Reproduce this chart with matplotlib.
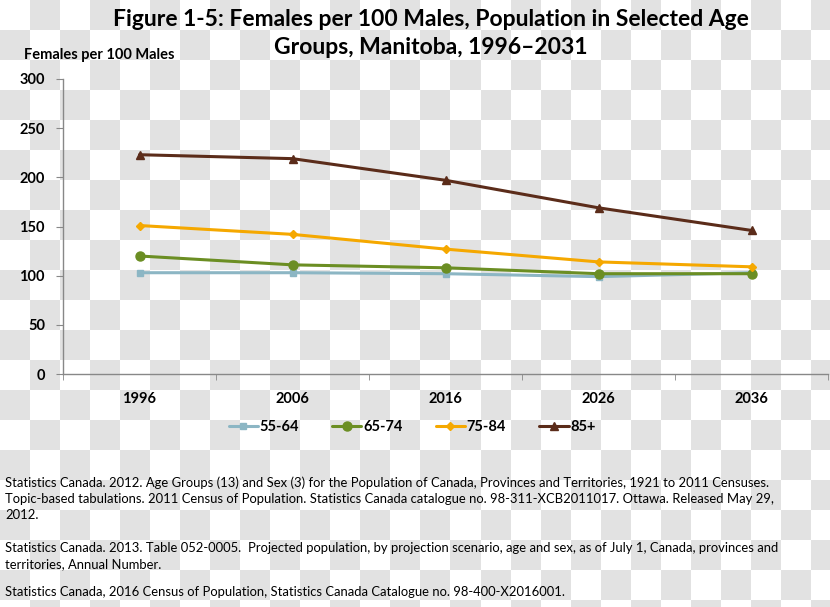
import numpy as np
import matplotlib
matplotlib.use("Agg")
import matplotlib.pyplot as plt

# data
years = ["1996", "2006", "2016", "2026", "2036"]
age_55_64 = [103, 103, 102, 99, 103]
age_65_74 = [120, 111, 108, 102, 102]
age_75_84 = [151, 142, 127, 114, 109]
age_85_plus = [223, 219, 197, 169, 146]

series = [
    ("55-64", age_55_64, "#8cb6c4", "s", 5.0),
    ("65-74", age_65_74, "#6b8e23", "o", 6.5),
    ("75-84", age_75_84, "#f5a800", "D", 4.5),
    ("85+", age_85_plus, "#5b2c1a", "^", 5.5),
]

title_lines = ["Figure 1-5: Females per 100 Males, Population in Selected Age",
               "Groups, Manitoba, 1996\u20132031"]

sources = [
    "Statistics Canada. 2012. Age Groups (13) and Sex (3) for the Population of Canada, Provinces and Territories, 1921 to 2011 Censuses.\n"
    "Topic-based tabulations. 2011 Census of Population. Statistics Canada catalogue no. 98-311-XCB2011017. Ottawa. Released May 29,\n"
    "2012.",
    "Statistics Canada. 2013. Table 052-0005.  Projected population, by projection scenario, age and sex, as of July 1, Canada, provinces and\n"
    "territories, Annual Number.",
    "Statistics Canada, 2016 Census of Population, Statistics Canada Catalogue no. 98-400-X2016001.",
]

W, H = 830, 607
font = ["Lato", "DejaVu Sans"]

fig = plt.figure(figsize=(W / 100, H / 100), dpi=100)

# checkerboard background (30 px cells)
bg = fig.add_axes([0, 0, 1, 1], zorder=-10)
rows, cols = 21, 28
checker = (np.add.outer(np.arange(rows), np.arange(cols)) % 2).astype(float)
bg.imshow(checker, cmap=matplotlib.colors.ListedColormap(["#ffffff", "#e2e2e2"]),
          extent=(0, cols * 30, rows * 30, 0), interpolation="nearest", aspect="auto")
bg.set_xlim(0, W)
bg.set_ylim(H, 0)
bg.axis("off")

# plot area
ax = fig.add_axes([63 / W, (H - 374) / H, (828 - 63) / W, 295 / H])
ax.patch.set_alpha(0)
x = np.arange(len(years))
for label, vals, color, marker, ms in series:
    ax.plot(x, vals, color=color, lw=2.2, marker=marker, ms=ms, label=label,
            solid_capstyle="round")

ax.set_xlim(-0.5, len(years) - 0.5)
ax.set_ylim(0, 300)
ax.set_yticks(range(0, 301, 50))
ax.set_xticks(x)
ax.set_xticklabels(years)
ax.set_xticks(np.arange(-0.5, len(years)), minor=True)
ax.tick_params(axis="x", which="major", length=0, pad=13)
ax.tick_params(axis="x", which="minor", length=4, direction="out", color="#888888")
ax.tick_params(axis="y", length=5, color="#888888", pad=8)
for lab in ax.get_xticklabels() + ax.get_yticklabels():
    lab.set_fontfamily(font)
    lab.set_fontweight("bold")
    lab.set_fontsize(10.5)
for side in ["top", "right"]:
    ax.spines[side].set_visible(False)
for side in ["left", "bottom"]:
    ax.spines[side].set_color("#888888")
    ax.spines[side].set_linewidth(1.0)

fig.text(24 / W, 1 - 55 / H, "Females per 100 Males", family=font, weight="bold",
         fontsize=10.5, ha="left", va="center")

# title, two lines
for y, line in zip([20, 48], title_lines):
    fig.text(431 / W, 1 - y / H, line, family=font, weight="bold",
             fontsize=16.5, ha="center", va="center")

leg = fig.legend(loc="center", bbox_to_anchor=(412 / W, 1 - 427 / H), ncol=4,
                 frameon=False, handlelength=2.0, handletextpad=0.1,
                 columnspacing=2.3, prop={"family": font, "weight": "bold", "size": 10.5})

ys = [485, 551, 595]
for y, txt in zip(ys, sources):
    fig.text(5 / W, 1 - (y - 9) / H, txt, family=font, fontsize=9.4, ha="left",
             va="top", linespacing=1.4)

fig.savefig("out.png", dpi=100)
